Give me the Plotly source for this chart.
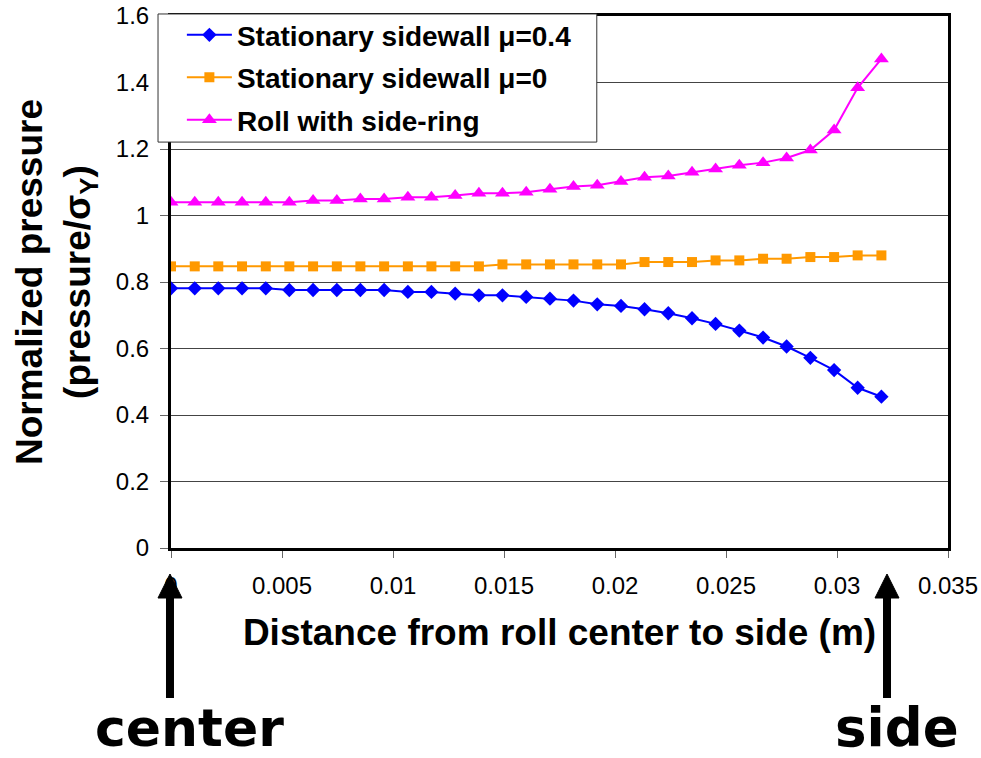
import plotly.graph_objects as go

# distance from roll center (m)
distance = [0, 0.00107, 0.00213, 0.0032, 0.00427, 0.00533, 0.0064, 0.00747, 0.00853, 0.0096,
            0.01067, 0.01173, 0.0128, 0.01387, 0.01493, 0.016, 0.01707, 0.01813, 0.0192, 0.02027,
            0.02133, 0.0224, 0.02347, 0.02453, 0.0256, 0.02667, 0.02773, 0.0288, 0.02987, 0.03093, 0.032]

stationary_mu04 = [0.781, 0.781, 0.781, 0.781, 0.781, 0.776, 0.776, 0.776, 0.776, 0.776,
                   0.770, 0.770, 0.765, 0.760, 0.760, 0.755, 0.750, 0.744, 0.733, 0.728,
                   0.718, 0.706, 0.691, 0.674, 0.654, 0.633, 0.606, 0.572, 0.535, 0.482, 0.455]

stationary_mu0 = [0.847, 0.847, 0.847, 0.847, 0.847, 0.847, 0.847, 0.847, 0.847, 0.847,
                  0.847, 0.847, 0.847, 0.847, 0.853, 0.853, 0.853, 0.853, 0.853, 0.853,
                  0.860, 0.860, 0.860, 0.865, 0.865, 0.870, 0.870, 0.875, 0.875, 0.880, 0.880]

roll_side_ring = [1.040, 1.040, 1.040, 1.040, 1.040, 1.040, 1.045, 1.045, 1.050, 1.050,
                  1.055, 1.055, 1.060, 1.067, 1.067, 1.070, 1.079, 1.087, 1.091, 1.102,
                  1.115, 1.119, 1.130, 1.140, 1.151, 1.159, 1.173, 1.197, 1.257, 1.384, 1.471]

series_names = ["Stationary sidewall \u03bc=0.4", "Stationary sidewall \u03bc=0", "Roll with side-ring"]

x_tickvals = [0, 0.005, 0.01, 0.015, 0.02, 0.025, 0.03, 0.035]
x_ticktext = ["0", "0.005", "0.01", "0.015", "0.02", "0.025", "0.03", "0.035"]
y_tickvals = [0, 0.2, 0.4, 0.6, 0.8, 1.0, 1.2, 1.4, 1.6]
y_ticktext = ["0", "0.2", "0.4", "0.6", "0.8", "1", "1.2", "1.4", "1.6"]

ARIAL = "Liberation Sans, Arial, sans-serif"

fig = go.Figure()
fig.add_trace(go.Scatter(x=distance, y=stationary_mu04, mode="lines+markers", name=series_names[0],
                         legendgroup="a",
                         line=dict(color="#0000FF", width=2),
                         marker=dict(symbol="diamond", size=11, color="#0000FF")))
fig.add_trace(go.Scatter(x=distance, y=stationary_mu0, mode="lines+markers", name=series_names[1],
                         legendgroup="b",
                         line=dict(color="#FF9900", width=2),
                         marker=dict(symbol="square", size=10, color="#FF9900")))
fig.add_trace(go.Scatter(x=distance, y=roll_side_ring, mode="lines+markers", name=series_names[2],
                         legendgroup="c",
                         line=dict(color="#FF00FF", width=2),
                         marker=dict(symbol="triangle-up", size=13, color="#FF00FF")))


def arrow_shapes(xp):
    """Up-pointing arrow (shaft + head) below the x axis, at paper x position xp."""
    return [
        dict(type="line", xref="paper", yref="paper", layer="above",
             x0=xp, x1=xp, y0=-0.282, y1=-0.090,
             line=dict(color="black", width=8)),
        dict(type="path", xref="paper", yref="paper", layer="above",
             xsizemode="pixel", ysizemode="pixel", xanchor=xp, yanchor=-0.0489,
             path="M-12,-24 L12,-24 L0,0 Z",
             fillcolor="black", line=dict(color="black", width=1)),
    ]


fig.update_layout(
    width=981, height=758,
    margin=dict(l=171, r=33, t=16, b=210, autoexpand=False),
    paper_bgcolor="white", plot_bgcolor="white",
    font=dict(family=ARIAL, color="black"),
    showlegend=True,
    legend=dict(x=0.014, y=1.011, xanchor="left", yanchor="top",
                bgcolor="rgba(0,0,0,0)", borderwidth=0,
                font=dict(family=ARIAL, size=28, color="black", weight="bold"),
                itemwidth=45, tracegroupgap=3),
    xaxis=dict(range=[0, 0.035], tickvals=x_tickvals, ticktext=x_ticktext,
               automargin=False,
               showgrid=False, zeroline=False,
               showline=True, mirror=True, linecolor="black", linewidth=3,
               ticks="outside", ticklen=7, tickcolor="#666", tickwidth=1,
               ticklabelstandoff=7,
               tickfont=dict(family=ARIAL, size=24, color="black"),
               title=dict(text="Distance from roll center to side (m)", standoff=22,
                          font=dict(family=ARIAL, size=37, color="black", weight="bold"))),
    yaxis=dict(range=[0, 1.6], tickvals=y_tickvals, ticktext=y_ticktext,
               automargin=False,
               showgrid=True, gridcolor="#444", gridwidth=1.2, zeroline=False,
               showline=True, mirror=True, linecolor="black", linewidth=3,
               ticks="outside", ticklen=8, tickcolor="#666", tickwidth=1,
               ticklabelstandoff=6,
               tickfont=dict(family=ARIAL, size=24, color="black"),
               title=dict(text="Normalized pressure<br>(pressure/\u03c3<sub>Y</sub>)", standoff=14,
                          font=dict(family=ARIAL, size=37, color="black", weight="bold"))),
    shapes=[dict(type="rect", xref="paper", yref="paper", layer="above",
                 x0=-0.0167, x1=0.548, y0=0.763, y1=1.0038,
                 fillcolor="white", line=dict(color="#333", width=1))]
           + arrow_shapes(-0.0013) + arrow_shapes(0.9215),
    annotations=[
        dict(xref="paper", yref="paper", x=0.024, y=-0.338, text="center", showarrow=False,
             xanchor="center", yanchor="middle",
             font=dict(family="DejaVu Sans", size=52, color="black", weight="bold")),
        dict(xref="paper", yref="paper", x=0.935, y=-0.338, text="side", showarrow=False,
             xanchor="center", yanchor="middle",
             font=dict(family="DejaVu Sans", size=53, color="black", weight="bold")),
    ],
)

fig.write_html("out.html")
